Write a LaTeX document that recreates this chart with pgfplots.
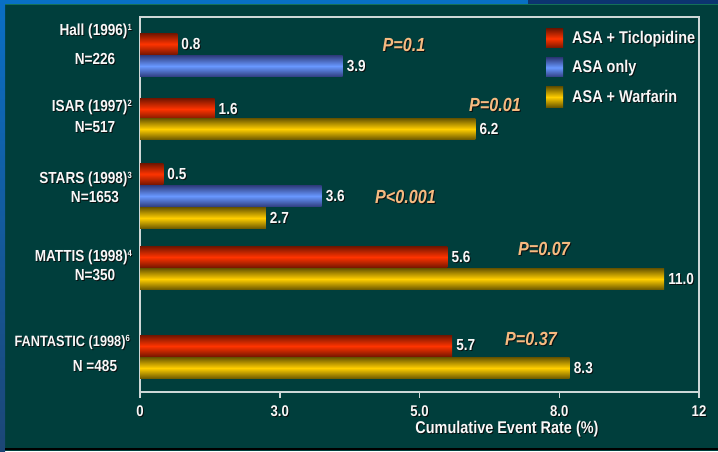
\documentclass[border=0pt]{standalone}
\usepackage{pgfplots}
\pgfplotsset{compat=1.18}
\usepackage{fontspec}
\setmainfont{Liberation Sans}[FakeStretch=0.85]

\definecolor{bg}{RGB}{0,62,60}
\definecolor{topblue}{RGB}{8,112,196}
\definecolor{topnavy}{RGB}{12,52,112}
\definecolor{seam}{RGB}{20,112,88}
\definecolor{sideblue}{RGB}{10,110,196}
\definecolor{sidenavy}{RGB}{28,70,118}
\definecolor{baseline}{RGB}{40,140,140}
\definecolor{framec}{RGB}{205,215,215}
\definecolor{txt}{RGB}{248,248,248}
\definecolor{pcol}{RGB}{246,186,128}
\definecolor{shadowc}{RGB}{10,15,15}
\definecolor{rdark}{RGB}{118,22,0}
\definecolor{rmid}{RGB}{255,52,0}
\definecolor{bdark}{RGB}{48,62,128}
\definecolor{bmid}{RGB}{104,152,255}
\definecolor{ydark}{RGB}{108,88,0}
\definecolor{ymid}{RGB}{255,206,0}

\newcommand\fs[1]{\fontsize{#1}{#1}\selectfont\bfseries}
% text with a small drop shadow
\newcommand\sh[1]{\leavevmode\rlap{\kern1pt\raisebox{-1pt}{\color{shadowc}#1}}#1}
% small reference number
\newcommand\rf[1]{\raisebox{5pt}{\fontsize{9}{9}\selectfont #1}}

% broken rate scale: 0, 3, 5, 8 and 12 sit at equal spacing
\newcommand\warpx[1]{%
  \pgfmathparse{(#1)<3 ? (#1) : ((#1)<5 ? 3+1.5*((#1)-3) : ((#1)<8 ? 1+(#1) : 9+0.75*((#1)-8)))}}

\pgfplotsset{
  warped x/.style={x coord trafo/.code={\warpx{##1}}},
  hbar/.style={xbar, bar shift=0pt, bar width=21, draw=none,
    nodes near coords={\sh{\pgfplotspointmeta}}, point meta=explicit symbolic,
    every node near coord/.append style={anchor=west, inner sep=0pt, xshift=4pt,
      text=txt, font=\fs{16}}},
  redbar/.style={hbar, top color=rdark, bottom color=rdark, middle color=rmid},
  bluebar/.style={hbar, top color=bdark, bottom color=bdark, middle color=bmid},
  yellowbar/.style={hbar, top color=ydark, bottom color=ydark, middle color=ymid},
}

\begin{document}
\begin{tikzpicture}
\begin{scope}[x=1pt,y=1pt]
  \fill[bg] (0,0) rectangle (718,451);
  \fill[topblue] (0,447) rectangle (528,451);
  \fill[topnavy] (528,447) rectangle (718,451);
  \fill[seam] (5,446) rectangle (718,447);
  \shade[top color=sideblue, bottom color=sidenavy] (0,0) rectangle (5,447);
  \fill[baseline] (5,1.5) rectangle (718,3);
\end{scope}

\begin{axis}[
  at={(140pt,59pt)}, anchor=south west,
  scale only axis, width=559pt, height=375pt,
  xmin=0, xmax=12, ymin=17, ymax=392, y dir=reverse,
  warped x,
  xtick={0,3,5,8,12},
  xticklabels={\sh{0},\sh{3.0},\sh{5.0},\sh{8.0},\sh{12}},
  ytick=\empty,
  xtick pos=bottom, tick align=outside, major tick length=6pt,
  tick style={framec, line width=1.5pt},
  axis line style={framec, line width=1.5pt},
  xticklabel style={font=\fs{15.5}, text=txt, yshift=-4pt},
  clip=false,
]
% ASA + Ticlopidine
\addplot[redbar] coordinates {(0.8,44) [0.8]};
\addplot[redbar] coordinates {(1.6,109) [1.6]};
\addplot[redbar] coordinates {(0.5,174) [0.5]};
\addplot[redbar] coordinates {(5.6,257) [5.6]};
\addplot[redbar] coordinates {(5.7,346) [5.7]};
% ASA only
\addplot[bluebar] coordinates {(3.9,66) [3.9]};
\addplot[bluebar] coordinates {(3.6,196) [3.6]};
% ASA + Warfarin
\addplot[yellowbar] coordinates {(6.2,129) [6.2]};
\addplot[yellowbar] coordinates {(2.7,218) [2.7]};
\addplot[yellowbar] coordinates {(11.0,279) [11.0]};
\addplot[yellowbar] coordinates {(8.3,368) [8.3]};
\end{axis}

\begin{scope}[x=1pt,y=1pt, every node/.style={text=txt, inner sep=0pt}]
  % trial names and sizes
  \node[anchor=east, font=\fs{16}] at (132,419) {\sh{Hall (1996)\rf{1}}};
  \node[font=\fs{16}] at (95,392) {\sh{N=226}};
  \node[anchor=east, font=\fs{16}] at (132,343) {\sh{ISAR (1997)\rf{2}}};
  \node[font=\fs{16}] at (95,323) {\sh{N=517}};
  \node[anchor=east, font=\fs{16}] at (132,271) {\sh{STARS (1998)\rf{3}}};
  \node[font=\fs{16}] at (95,253) {\sh{N=1653}};
  \node[anchor=east, font=\fs{16}] at (132,193.5) {\sh{MATTIS (1998)\rf{4}}};
  \node[font=\fs{16}] at (95,175) {\sh{N=350}};
  \node[anchor=east, font=\fs{15}] at (130,108.5) {\sh{FANTASTIC (1998)\rf{6}}};
  \node[font=\fs{16}] at (95,85) {\sh{N =485}};
  % p-values
  \begin{scope}[every node/.style={text=pcol, inner sep=0pt, font=\fs{19}\itshape}]
    \node at (404,406) {\sh{P=0.1}};
    \node at (495,346) {\sh{P=0.01}};
    \node at (405.5,254) {\sh{P<0.001}};
    \node at (544,202) {\sh{P=0.07}};
    \node at (531,112) {\sh{P=0.37}};
  \end{scope}
  % legend
  \shade[top color=rdark, bottom color=rdark, middle color=rmid] (546,403) rectangle (563,422);
  \shade[top color=bdark, bottom color=bdark, middle color=bmid] (546,374) rectangle (563,393);
  \shade[top color=ydark, bottom color=ydark, middle color=ymid] (546,344) rectangle (563,364);
  \node[anchor=west, font=\fs{17}] at (572,411) {\sh{ASA + Ticlopidine}};
  \node[anchor=west, font=\fs{17}] at (572,382) {\sh{ASA only}};
  \node[anchor=west, font=\fs{17}] at (572,354) {\sh{ASA + Warfarin}};
  % axis title
  \node[font=\fs{17}] at (507,21) {\sh{Cumulative Event Rate (\%)}};
\end{scope}
\end{tikzpicture}
\end{document}
